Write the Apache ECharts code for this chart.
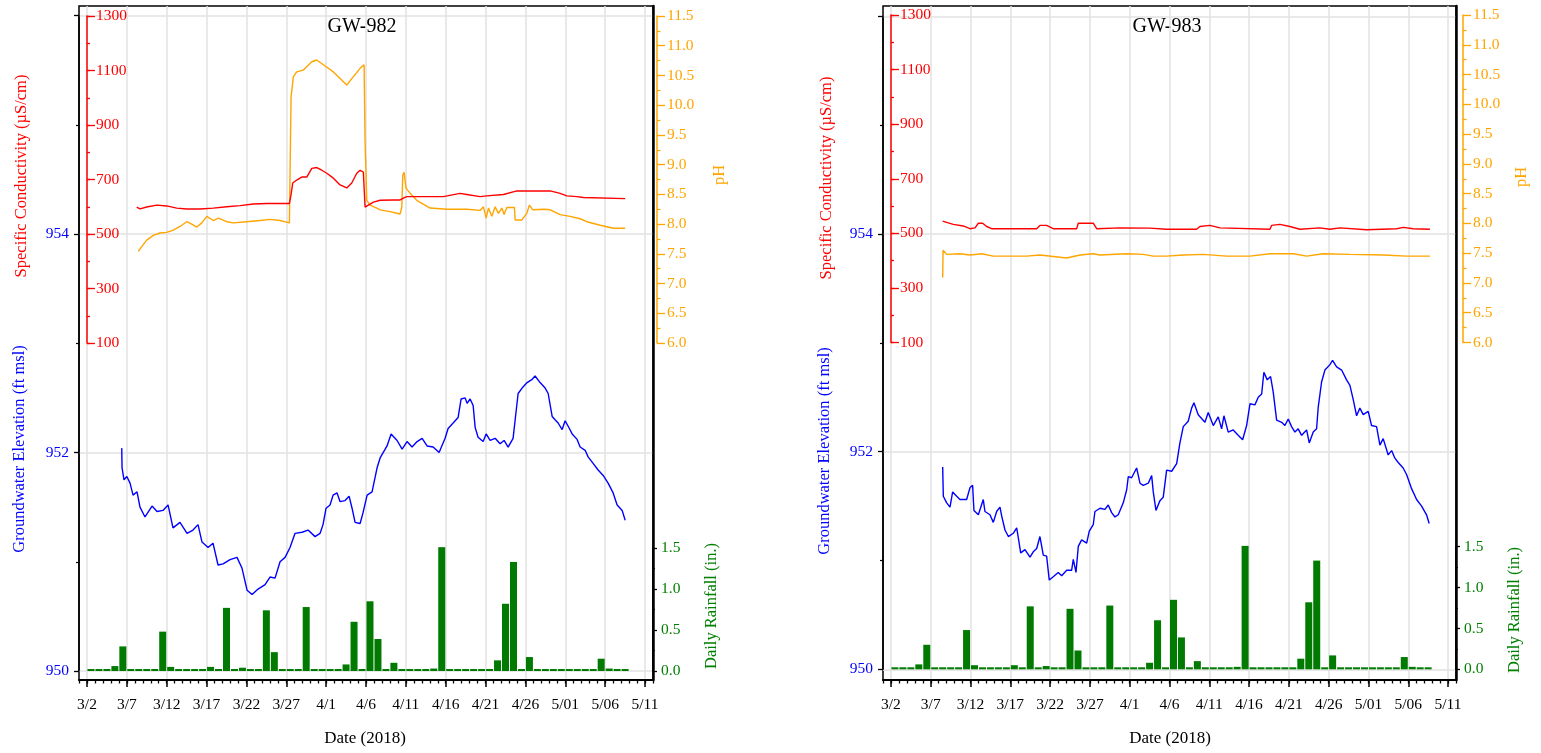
<!DOCTYPE html>
<html><head><meta charset="utf-8">
<script src="https://cdn.jsdelivr.net/npm/echarts@6/dist/echarts.min.js"></script>
<style>html,body{margin:0;padding:0;background:#fff}#c{width:1541px;height:753px}</style>
</head><body><div id="c"></div>
<script>
// time unit: days since 2018-03-01 00:00 (3/1 = 0, 5/12 = 72)
const tickLabels = ['3/2','3/7','3/12','3/17','3/22','3/27','4/1','4/6','4/11','4/16','4/21','4/26','5/01','5/06','5/11'];
const axisTitles = {
  cond: 'Specific Conductivity (\u00b5S/cm)',
  gw: 'Groundwater Elevation (ft msl)',
  ph: 'pH',
  rain: 'Daily Rainfall (in.)',
  date: 'Date (2018)'
};
// daily rainfall (in.), first value = 3/2
const rainfall = [0,0,0,0.06,0.30,0,0,0,0,0.48,0.05,0,0,0,0,0.05,0,0.77,0.02,0.04,
  0,0,0.74,0.23,0,0,0,0.78,0.02,0.01,0,0,0.08,0.60,0,0.85,0.39,0,0.10,0,
  0,0,0,0.03,1.51,0,0,0,0,0,0,0.13,0.82,1.33,0,0.17,0,0,0,0,
  0,0,0,0,0.15,0.03,0,0];

const gw982 = [[5.36,952.04],[5.4,951.86],[5.65,951.75],[6.0,951.78],[6.4,951.72],[6.78,951.61],[7.28,951.64],[7.65,951.50],[8.28,951.41],[9.16,951.51],[9.79,951.46],[10.54,951.47],[11.17,951.52],[11.79,951.31],[12.67,951.36],[13.55,951.26],[14.3,951.29],[14.93,951.34],[15.43,951.18],[16.19,951.13],[16.81,951.17],[17.44,950.97],[18.07,950.98],[18.95,951.02],[19.82,951.04],[20.45,950.94],[21.08,950.74],[21.71,950.70],[22.46,950.75],[23.34,950.79],[23.96,950.86],[24.59,950.85],[25.22,951.0],[25.85,951.04],[26.47,951.13],[27.1,951.26],[27.98,951.27],[28.73,951.29],[29.61,951.23],[30.24,951.26],[30.61,951.34],[30.99,951.49],[31.49,951.52],[31.87,951.61],[32.37,951.63],[32.75,951.55],[33.37,951.56],[33.88,951.60],[34.25,951.49],[34.63,951.36],[35.26,951.35],[35.63,951.45],[36.14,951.61],[36.76,951.64],[37.39,951.86],[37.77,951.95],[38.64,952.06],[39.15,952.17],[39.9,952.11],[40.53,952.03],[41.15,952.10],[41.78,952.05],[42.41,952.10],[43.04,952.13],[43.66,952.06],[44.42,952.05],[45.17,952.00],[45.92,952.13],[46.3,952.22],[46.93,952.27],[47.55,952.32],[47.93,952.49],[48.43,952.50],[48.68,952.45],[49.06,952.49],[49.44,952.43],[49.69,952.23],[50.06,952.14],[50.69,952.10],[51.07,952.17],[51.57,952.11],[52.2,952.13],[52.82,952.08],[53.32,952.11],[53.83,952.05],[54.45,952.13],[54.71,952.30],[55.08,952.54],[55.58,952.59],[56.21,952.64],[56.84,952.67],[57.21,952.70],[57.84,952.64],[58.47,952.59],[58.85,952.54],[59.35,952.33],[59.72,952.30],[60.1,952.27],[60.6,952.21],[60.98,952.29],[61.36,952.24],[61.86,952.17],[62.48,952.12],[62.86,952.05],[63.49,952.02],[63.86,951.96],[64.49,951.90],[65.12,951.84],[65.75,951.79],[66.37,951.72],[67.0,951.63],[67.5,951.52],[68.13,951.47],[68.51,951.38]];

const cond982 = [[7.24,599],[7.65,592],[8.49,599],[9.75,606],[11.0,603],[12.26,595],[13.51,592],[15.18,592],[16.85,595],[18.53,600],[20.2,604],[21.87,610],[23.55,612],[26.39,612],[26.56,637],[26.81,687],[27.31,698],[27.94,709],[28.57,709],[29.2,741],[29.82,744],[30.45,734],[31.08,723],[31.91,705],[32.75,680],[33.59,669],[34.21,687],[34.84,723],[35.26,734],[35.67,727],[35.88,599],[36.1,606],[36.93,617],[37.77,624],[39.5,625],[40.28,625],[40.5,620],[40.7,632],[41.11,637],[45.71,637],[45.92,643],[47.8,649],[48.64,645],[50.31,637],[51.15,640],[53.24,645],[54.92,658],[59.1,658],[60.35,649],[61.19,640],[62.45,637],[63.27,634],[68.51,630]];

const ph982 = [[7.44,7.54],[7.87,7.62],[8.49,7.73],[9.32,7.81],[10.16,7.85],[11.0,7.86],[11.83,7.90],[12.67,7.96],[13.51,8.04],[14.14,8.00],[14.77,7.95],[15.4,8.02],[16.02,8.13],[16.85,8.06],[17.48,8.10],[18.53,8.04],[19.36,8.02],[21.04,8.04],[22.71,8.06],[23.96,8.08],[25.22,8.06],[26.39,8.02],[26.6,10.14],[26.89,10.48],[27.31,10.56],[28.14,10.59],[29.2,10.73],[29.82,10.76],[30.65,10.68],[31.91,10.56],[32.75,10.45],[33.59,10.34],[34.42,10.48],[35.26,10.62],[35.76,10.68],[35.88,9.41],[36.1,8.40],[36.51,8.32],[37.35,8.27],[37.77,8.24],[39.02,8.21],[40.28,8.17],[40.49,8.29],[40.62,8.83],[40.78,8.87],[41.03,8.60],[41.53,8.52],[42.37,8.40],[44.04,8.27],[46.14,8.25],[48.64,8.25],[50.31,8.23],[50.73,8.29],[51.07,8.10],[51.36,8.27],[51.78,8.13],[52.2,8.29],[52.61,8.18],[53.04,8.27],[53.32,8.16],[53.66,8.28],[54.62,8.28],[54.71,8.07],[55.55,8.07],[56.17,8.18],[56.5,8.32],[56.93,8.24],[58.26,8.25],[59.1,8.24],[60.35,8.16],[61.61,8.13],[62.86,8.09],[63.7,8.04],[65.37,7.98],[67.04,7.93],[68.51,7.93]];

const gw983 = [[7.5,951.86],[7.58,951.59],[8.0,951.53],[8.42,951.49],[8.75,951.63],[9.26,951.59],[9.67,951.56],[10.09,951.56],[10.51,951.56],[10.93,951.67],[11.26,951.69],[11.43,951.46],[11.98,951.42],[12.6,951.56],[12.81,951.45],[13.44,951.42],[13.86,951.35],[14.28,951.45],[14.7,951.49],[14.91,951.41],[15.33,951.28],[15.75,951.22],[16.37,951.25],[16.8,951.30],[17.0,951.21],[17.3,951.07],[17.84,951.10],[18.47,951.03],[18.88,951.08],[19.31,951.11],[19.72,951.22],[20.14,951.05],[20.56,951.04],[20.89,950.82],[21.39,950.85],[22.02,950.89],[22.45,950.86],[23.08,950.91],[23.7,950.91],[23.91,951.01],[24.25,950.89],[24.54,951.13],[24.96,951.19],[25.59,951.16],[25.92,951.27],[26.42,951.33],[26.63,951.45],[27.26,951.48],[27.89,951.47],[28.3,951.51],[28.73,951.44],[29.15,951.40],[29.56,951.42],[30.19,951.53],[30.62,951.65],[30.82,951.77],[31.24,951.76],[31.87,951.85],[32.29,951.71],[32.7,951.69],[33.33,951.71],[33.76,951.78],[33.96,951.63],[34.3,951.46],[34.8,951.55],[35.21,951.58],[35.64,951.83],[36.27,951.82],[36.9,951.89],[37.31,952.08],[37.73,952.23],[38.35,952.28],[38.78,952.40],[39.07,952.45],[39.61,952.34],[40.45,952.27],[40.87,952.36],[41.5,952.24],[42.12,952.32],[42.55,952.21],[42.84,952.33],[43.38,952.18],[44.0,952.20],[44.63,952.15],[45.19,952.11],[45.69,952.24],[46.11,952.44],[46.73,952.43],[47.15,952.50],[47.58,952.53],[47.86,952.73],[48.28,952.66],[48.7,952.69],[49.03,952.55],[49.46,952.29],[50.09,952.27],[50.5,952.24],[50.92,952.30],[51.34,952.23],[51.76,952.18],[52.17,952.21],[52.6,952.15],[53.23,952.20],[53.56,952.08],[54.06,952.18],[54.48,952.21],[54.69,952.41],[55.11,952.64],[55.53,952.75],[56.16,952.80],[56.49,952.84],[57.0,952.78],[57.63,952.75],[58.25,952.66],[58.67,952.61],[59.08,952.48],[59.51,952.33],[59.92,952.40],[60.34,952.34],[60.97,952.37],[61.39,952.24],[62.02,952.23],[62.44,952.06],[62.85,952.12],[63.48,951.97],[63.91,952.01],[64.32,951.94],[64.74,951.90],[65.36,951.85],[65.79,951.79],[66.42,951.66],[67.05,951.56],[67.68,951.50],[68.3,951.42],[68.63,951.34]];

const cond983 = [[7.5,545],[8.0,540],[8.83,533],[10.09,527],[10.93,517],[11.56,520],[11.98,537],[12.52,537],[13.03,525],[13.65,517],[19.31,517],[19.72,529],[20.56,529],[21.39,517],[24.33,517],[24.54,537],[26.42,537],[26.85,517],[29.77,520],[33.5,519],[35.64,515],[39.4,515],[39.82,525],[41.08,529],[42.34,520],[48.62,515],[48.83,529],[49.87,533],[51.13,525],[52.39,515],[54.9,520],[56.16,515],[57.41,520],[60.77,513],[64.54,517],[65.36,522],[66.62,517],[68.72,515]];

const ph983 = [[7.5,7.09],[7.55,7.55],[8.0,7.48],[9.67,7.49],[10.93,7.47],[12.39,7.49],[13.86,7.45],[18.05,7.45],[19.72,7.47],[23.08,7.42],[24.75,7.47],[26.42,7.49],[27.26,7.47],[30.61,7.49],[32.7,7.48],[33.96,7.45],[35.64,7.45],[37.73,7.47],[40.24,7.48],[43.17,7.45],[46.11,7.45],[48.62,7.49],[51.55,7.49],[53.23,7.45],[55.32,7.49],[58.67,7.48],[62.85,7.47],[65.79,7.45],[68.72,7.45]];

const FONT = "'Liberation Serif','Times New Roman',serif";
const C = {red:'#ff0000', orange:'#ffa500', blue:'#0000ff', green:'#008000', bar:'#007a00', grid:'#e2e2e2'};

const panels = [
  {title:'GW-982', gw:gw982, cond:cond982, ph:ph982, L:79, W:574, top:6, bottom:680,
   gwTop:15.5, gwBot:671, condTop:16, condBot:343, phOff:4, rainTop:548, rainBot:671,
   titleX:362, condX:22, condY:176, gwX:20, gwY:449, phX:720, phY:175, rainX:712, rainY:606, dateX:365},
  {title:'GW-983', gw:gw983, cond:cond983, ph:ph983, L:883, W:573, top:6, bottom:680,
   gwTop:16.4, gwBot:669.3, condTop:15, condBot:342.5, phOff:7, rainTop:546.7, rainBot:669.3,
   titleX:1167, condX:827, condY:178, gwX:825, gwY:451, phX:1522, phY:177, rainX:1515, rainY:610, dateX:1170}
];

const dayCats = [];
for (let i = 0; i <= 72; i++) dayCats.push(String(i));
const isMajor = (idx) => idx >= 1 && (idx - 1) % 5 === 0;
const majorLabel = (v, idx) => isMajor(idx) ? tickLabels[(idx - 1) / 5] : '';

const grid = [], xAxis = [], yAxis = [], series = [], graphic = [];
const hiddenX = (gi) => ({gridIndex:gi, type:'value', min:0, max:72, show:false, axisLine:{onZero:false}});
const lbl = (color, extra) => Object.assign({color, fontFamily:FONT, fontSize:15.5}, extra || {});
const line = (color, width) => ({show:true, onZero:false, lineStyle:{color, width}});

panels.forEach(p => {
  const day = p.W / 72;
  // frame grid
  let gi = grid.length;
  grid.push({left:p.L, top:p.top, width:p.W, height:p.bottom - p.top, show:true, borderColor:'#000', borderWidth:1.5, backgroundColor:'transparent'});
  xAxis.push({gridIndex:gi, type:'category', boundaryGap:false, data:dayCats, position:'bottom',
    axisLine:{show:false, onZero:false}, axisTick:{show:true, interval:0, length:3.5, lineStyle:{color:'#000', width:1.3}},
    axisLabel:{show:false}, splitLine:{show:false}});
  xAxis.push({gridIndex:gi, type:'category', boundaryGap:false, data:dayCats, position:'bottom',
    axisLine:line('#000', 2),
    axisTick:{show:true, interval:(i) => isMajor(i), length:7, lineStyle:{color:'#000', width:1.5}},
    axisLabel:lbl('#000', {interval:(i) => isMajor(i), formatter:majorLabel, margin:17}),
    splitLine:{show:true, interval:(i) => isMajor(i), lineStyle:{color:C.grid, width:1.5}}});
  yAxis.push({gridIndex:gi, type:'value', min:0, max:1, position:'right',
    axisLine:line('#000', 2.5), axisTick:{show:false}, axisLabel:{show:false}, splitLine:{show:false}});

  // groundwater grid
  gi = grid.length;
  grid.push({left:p.L, top:p.gwTop, width:p.W, height:p.gwBot - p.gwTop});
  xAxis.push(hiddenX(gi));
  const gwY = yAxis.length;
  yAxis.push({gridIndex:gi, type:'value', min:950, max:956, interval:2, position:'left',
    axisLine:line('#000', 1.5),
    axisTick:{show:true, length:5, lineStyle:{color:'#000', width:1.3}},
    minorTick:{show:true, splitNumber:2, length:3, lineStyle:{color:'#000', width:1.2}},
    axisLabel:lbl(C.blue, {margin:10, showMaxLabel:false, formatter:(v) => v === 956 ? '' : String(v)}),
    splitLine:{show:true, lineStyle:{color:C.grid, width:1.5}}});
  series.push({type:'line', xAxisIndex:xAxis.length - 1, yAxisIndex:gwY, data:p.gw, showSymbol:false, symbol:'none',
    lineStyle:{color:C.blue, width:1.4}, z:3});

  // conductivity grid (axis drawn on the 3/2 line)
  gi = grid.length;
  grid.push({left:p.L, top:p.condTop, width:p.W, height:p.condBot - p.condTop});
  xAxis.push(hiddenX(gi));
  const cX = xAxis.length - 1;
  yAxis.push({gridIndex:gi, type:'value', min:100, max:1300, interval:100, position:'left', offset:-day,
    axisLine:line(C.red, 1.5),
    axisTick:{show:true, inside:true, length:3, lineStyle:{color:C.red, width:1.3}},
    axisLabel:lbl(C.red, {inside:true, margin:9, formatter:(v) => (v % 200 === 100) ? String(v) : ''}),
    splitLine:{show:false}});
  const cY = yAxis.length - 1;
  yAxis.push({gridIndex:gi, type:'value', min:100, max:1300, interval:100, position:'left', offset:-day,
    axisLine:{show:false, onZero:false},
    axisTick:{show:true, inside:true, length:8, customValues:[100,300,500,700,900,1100,1300], lineStyle:{color:C.red, width:1.3}},
    axisLabel:{show:false}, splitLine:{show:false}});
  series.push({type:'line', xAxisIndex:cX, yAxisIndex:cY, data:p.cond, showSymbol:false, symbol:'none',
    lineStyle:{color:C.red, width:1.4}, z:4});

  // pH grid
  gi = grid.length;
  grid.push({left:p.L, top:p.condTop, width:p.W, height:p.condBot - p.condTop});
  xAxis.push(hiddenX(gi));
  const pX = xAxis.length - 1;
  yAxis.push({gridIndex:gi, type:'value', min:6, max:11.5, interval:0.5, position:'right', offset:p.phOff,
    axisLine:line(C.orange, 1.5),
    axisTick:{show:true, length:8, lineStyle:{color:C.orange, width:1.3}},
    minorTick:{show:true, splitNumber:2, length:3.5, lineStyle:{color:C.orange, width:1.2}},
    axisLabel:lbl(C.orange, {margin:10, formatter:(v) => v.toFixed(1)}),
    splitLine:{show:false}});
  const pY = yAxis.length - 1;
  series.push({type:'line', xAxisIndex:pX, yAxisIndex:pY, data:p.ph, showSymbol:false, symbol:'none',
    lineStyle:{color:C.orange, width:1.4}, z:3});

  // rainfall grid
  gi = grid.length;
  grid.push({left:p.L, top:p.rainTop, width:p.W, height:p.rainBot - p.rainTop});
  xAxis.push(hiddenX(gi));
  const rX = xAxis.length - 1;
  yAxis.push({gridIndex:gi, type:'value', min:0, max:1.5, interval:0.5, position:'right',
    axisLine:line('#000', 2),
    axisTick:{show:true, length:4, lineStyle:{color:'#000', width:1.3}},
    minorTick:{show:true, splitNumber:2, length:2, lineStyle:{color:'#000', width:1.2}},
    axisLabel:lbl(C.green, {margin:8, formatter:(v) => v.toFixed(1)}),
    splitLine:{show:false}});
  const rY = yAxis.length - 1;
  series.push({type:'bar', xAxisIndex:rX, yAxisIndex:rY, data:rainfall.map((v, i) => [i + 1.5, v]),
    barWidth:Math.round(day - 1), barMinHeight:2, clip:false, itemStyle:{color:C.bar}, z:2});

  // texts
  const t = (text, x, y, color, size, rot) => graphic.push({type:'text', x, y, rotation:rot || 0, silent:true,
    style:{text, fill:color, font:size + 'px ' + FONT, textAlign:'center', textVerticalAlign:'middle', align:'center', verticalAlign:'middle'}});
  t(p.title, p.titleX, 27, '#000', 20);
  t(axisTitles.cond, p.condX, p.condY, C.red, 16.5, Math.PI / 2);
  t(axisTitles.gw, p.gwX, p.gwY, C.blue, 16.5, Math.PI / 2);
  t(axisTitles.ph, p.phX, p.phY, C.orange, 16.5, Math.PI / 2);
  t(axisTitles.rain, p.rainX, p.rainY, C.green, 16.5, Math.PI / 2);
  t(axisTitles.date, p.dateX, 739, '#000', 17);
});

const chart = echarts.init(document.getElementById('c'), null, {renderer:'canvas'});
chart.setOption({animation:false, backgroundColor:'#fff', grid, xAxis, yAxis, series, graphic});
</script>
</body></html>
